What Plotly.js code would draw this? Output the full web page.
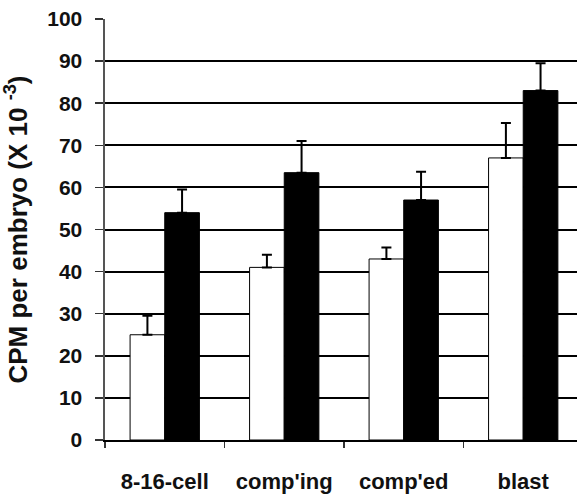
<!DOCTYPE html>
<html><head><meta charset="utf-8">
<script src="https://cdn.plot.ly/plotly-3.0.1.min.js"></script>
<style>html,body{margin:0;padding:0;background:#fff}</style>
</head><body><div id="chart" style="width:577px;height:498px"></div>
<script>
var categories = ["8-16-cell", "comp'ing", "comp'ed", "blast"];
var whiteValues = [25, 41, 43, 67];
var whiteErrors = [4.5, 3, 2.7, 8.3];
var blackValues = [54, 63.5, 57, 83];
var blackErrors = [5.5, 7.5, 6.7, 6.5];
var yTicks = [0, 10, 20, 30, 40, 50, 60, 70, 80, 90, 100];

var fam = "Liberation Sans, Arial, sans-serif";
var data = [
  {type: "bar", x: categories, y: whiteValues, name: "white",
   marker: {color: "#fff", line: {color: "#000", width: 1}},
   error_y: {type: "data", array: whiteErrors, arrayminus: whiteErrors.map(function(){return 0;}),
             symmetric: false, color: "#000", thickness: 2, width: 5}},
  {type: "bar", x: categories, y: blackValues, name: "black",
   marker: {color: "#000", line: {color: "#000", width: 1}},
   error_y: {type: "data", array: blackErrors, arrayminus: blackErrors.map(function(){return 0;}),
             symmetric: false, color: "#000", thickness: 2, width: 5}}
];
var layout = {
  width: 577, height: 498,
  margin: {l: 105, r: 0, t: 19, b: 58},
  paper_bgcolor: "#fff", plot_bgcolor: "#fff",
  showlegend: false,
  barmode: "group", bargap: 0.42, bargroupgap: 0,
  font: {family: fam, size: 14, color: "#000"},
  xaxis: {
    type: "category", range: [-0.5, 3.45],
    showline: true, linecolor: "#000", linewidth: 2,
    ticks: "outside", tickson: "boundaries", ticklen: 6, tickwidth: 1.5, tickcolor: "#333",
    ticklabelstandoff: 21,
    tickfont: {family: fam, size: 22, color: "#111", weight: "bold"},
    showgrid: false, zeroline: false
  },
  yaxis: {
    range: [0, 100], tickvals: yTicks, ticktext: yTicks.map(String),
    showline: true, linecolor: "#555", linewidth: 2.5,
    ticks: "outside", ticklen: 8, tickwidth: 1.5, tickcolor: "#333",
    ticklabelstandoff: 8,
    showgrid: true, gridcolor: "#000", gridwidth: 2,
    zeroline: false, automargin: true,
    tickfont: {family: fam, size: 21, color: "#111", weight: "bold"},
    title: {text: "CPM per embryo (X 10 <sup>-3</sup>)", standoff: 13,
            font: {family: fam, size: 26, color: "#111", weight: "bold"}}
  }
};
Plotly.newPlot("chart", data, layout, {displayModeBar: false, staticPlot: true});
</script></body></html>
